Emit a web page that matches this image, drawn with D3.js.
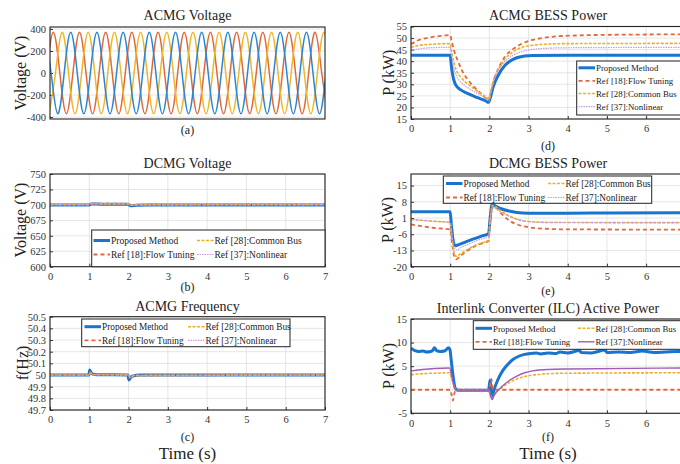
<!DOCTYPE html>
<html><head><meta charset="utf-8">
<script src="https://cdn.jsdelivr.net/npm/d3@7"></script>
<style>
body{margin:0;background:#fff}
svg{display:block;font-family:"Liberation Serif","Times New Roman",serif}
</style>
</head><body><svg id="chart" width="680" height="464"></svg>
<script>
// ---------------- DATA ----------------
const seriesNames = ["Proposed Method", "Ref [18]:Flow Tuning", "Ref [28]:Common Bus", "Ref [37]:Nonlinear"];
const timeTicks = [0, 1, 2, 3, 4, 5, 6, 7];
const timeTicksVisibleRight = [0, 1, 2, 3, 4, 5, 6];

// (a) ACMG three-phase voltage, sampled every quarter period (ms)
const acSampleStepMs = 5;
const acRedStartMs = -2.5, acYellowStartMs = -0.83, acBlueStartMs = -4.17;
const acRedV = [0,370,0,-370,0,370,0,-370,0,370,0,-370,0,370,0,-370,0,370,0,-370,0,370,0,-370,0,370,0,-370,0,370,0,-370,0,370,0,-370,0,370,0,-370,0,370,0,-370];
const acYellowV = [-370,0,370,0,-370,0,370,0,-370,0,370,0,-370,0,370,0,-370,0,370,0,-370,0,370,0,-370,0,370,0,-370,0,370,0,-370,0,370,0,-370,0,370,0,-370,0,370,0];
const acBlueV = [370,0,-370,0,370,0,-370,0,370,0,-370,0,370,0,-370,0,370,0,-370,0,370,0,-370,0,370,0,-370,0,370,0,-370,0,370,0,-370,0,370,0,-370,0,370,0,-370,0];
const acVoltTicks = [-400, -200, 0, 200, 400];

// (b) DCMG voltage
const dcVoltProposed = [[0,700],[1.0,700],[1.05,701.4],[1.3,701.2],[1.98,701],[2.05,698.8],[2.2,699.4],[2.5,700],[7,700]];
const dcVoltFlow = [[0,700.6],[1.0,700.6],[1.05,702.2],[1.3,702],[1.98,701.7],[2.05,699.6],[2.3,700.4],[7,700.6]];
const dcVoltCommon = [[0,700.4],[1.0,700.4],[1.05,701.9],[1.3,701.7],[1.98,701.5],[2.05,699.4],[2.3,700.2],[7,700.4]];
const dcVoltNonlin = [[0,700.3],[1.0,700.3],[1.05,701.8],[1.3,701.6],[1.98,701.4],[2.05,699.3],[2.3,700.1],[7,700.3]];
const dcVoltTicks = [600, 625, 650, 675, 700, 725, 750];

// (c) ACMG frequency
const freqProposed = [[0,50],[0.99,50],[1.01,50.042],[1.03,50.03],[1.08,50.01],[1.2,50.003],[1.98,50],[2.01,49.958],[2.04,49.972],[2.1,49.99],[2.3,50],[7,50]];
const freqFlow = [[0,50],[1.0,50],[1.02,50.025],[1.1,50.005],[2.0,50],[2.03,49.975],[2.15,49.995],[7,50]];
const freqCommon = [[0,50],[1.0,50],[1.02,50.02],[1.1,50.004],[2.0,50],[2.03,49.98],[2.15,49.996],[7,50]];
const freqNonlin = [[0,50],[1.0,50],[1.02,50.02],[1.1,50.004],[2.0,50],[2.03,49.98],[2.15,49.996],[7,50]];
const freqTicks = [49.7, 49.8, 49.9, 50, 50.1, 50.2, 50.3, 50.4, 50.5];

// (d) ACMG BESS power
const acBessProposed = [[0,42.6],[1.0,42.6],[1.03,38],[1.07,33.5],[1.12,30.5],[1.2,28.5],[1.33,27],[1.5,25.6],[1.7,24.2],[1.9,22.9],[1.98,22.2],[2.02,24],[2.1,29],[2.23,34],[2.4,38.2],[2.55,40.3],[2.7,41.5],[2.9,42.2],[3.1,42.5],[4,42.6],[7,42.6]];
const acBessFlow = [[0,47.3],[0.15,48.8],[0.3,49.6],[0.5,50.3],[0.75,50.9],[1.0,51.3],[1.04,48.5],[1.1,44.5],[1.2,40],[1.3,36],[1.45,32],[1.6,29],[1.8,25.8],[1.98,23.3],[2.03,26],[2.1,31],[2.25,37.5],[2.4,42],[2.6,45.2],[2.8,47.3],[3.05,49],[3.35,50],[3.7,50.7],[4.2,51.1],[5,51.4],[7,51.6]];
const acBessCommon = [[0,46],[0.2,46.8],[0.5,47.3],[1.0,47.6],[1.03,45],[1.08,40.5],[1.15,36.5],[1.3,32.5],[1.5,29.5],[1.7,27],[1.9,24.8],[1.99,23.5],[2.03,26.5],[2.1,31.5],[2.25,37],[2.4,41],[2.6,44],[2.8,45.8],[3.1,46.9],[3.5,47.4],[4,47.6],[7,47.7]];
const acBessNonlin = [[0,44.6],[0.2,45.3],[0.5,45.8],[1.0,46.0],[1.03,43],[1.08,38],[1.15,34],[1.3,30.5],[1.5,28],[1.7,26],[1.9,24],[1.99,22.8],[2.03,26],[2.1,31],[2.25,36.5],[2.4,40],[2.6,42.5],[2.8,44],[3.1,45.1],[3.5,45.6],[4,45.8],[7,46.0]];
const acBessTicks = [15, 20, 25, 30, 35, 40, 45, 50, 55];

// (e) DCMG BESS power
const dcBessProposed = [[0,3.7],[1.0,3.7],[1.03,-2],[1.07,-8],[1.12,-11],[1.2,-10.6],[1.4,-9.3],[1.6,-8],[1.8,-6.8],[1.98,-5.8],[2.02,1],[2.07,6.9],[2.15,6.2],[2.3,5.0],[2.5,4.0],[2.7,3.4],[3,3.1],[4,3.1],[5,3.2],[7,3.3]];
const dcBessFlow = [[0,-1.7],[0.3,-2.6],[0.6,-3.3],[1.0,-3.9],[1.05,-10],[1.1,-15.5],[1.15,-16.8],[1.25,-15.5],[1.45,-13],[1.7,-10.5],[1.98,-8.9],[2.02,0],[2.08,6.2],[2.15,5.8],[2.3,3],[2.5,0],[2.75,-2],[3,-3],[3.4,-3.6],[4,-3.9],[7,-4.0]];
const dcBessCommon = [[0,0.4],[0.5,-0.3],[1.0,-0.9],[1.05,-8],[1.1,-14],[1.15,-15.5],[1.3,-14],[1.5,-12],[1.75,-10],[1.98,-8.5],[2.02,0],[2.08,6.5],[2.15,6],[2.3,4],[2.5,2],[2.75,0.3],[3,-0.5],[3.5,-0.9],[7,-1.0]];
const dcBessNonlin = [[0,0.4],[0.5,-0.3],[1.0,-0.9],[1.05,-7],[1.1,-11.5],[1.15,-12.8],[1.3,-11.5],[1.5,-10],[1.75,-8.3],[1.98,-7.0],[2.02,0],[2.08,5.5],[2.15,5.2],[2.3,3.5],[2.5,1.8],[2.75,0.2],[3,-0.5],[3.5,-0.9],[7,-1.0]];
const dcBessTicks = [-20, -13, -6, 1, 8, 15];

// (f) ILC active power
const ilcProposed = [[0,8.8],[0.1,8.3],[0.2,8.1],[0.3,8.2],[0.4,8.0],[0.5,8.1],[0.55,8.3],[0.6,8.9],[0.65,8.3],[0.75,8.1],[0.85,8.2],[0.9,8.5],[0.95,8.9],[0.99,8.6],[1.03,6],[1.08,2.5],[1.13,0.3],[1.2,-0.1],[1.5,-0.1],[1.98,-0.1],[2.0,1],[2.02,2.0],[2.04,0],[2.07,-1.5],[2.12,0],[2.2,1.8],[2.3,3.5],[2.45,5.2],[2.6,6.4],[2.75,7.1],[2.9,7.5],[3.05,7.7],[3.2,7.8],[3.3,7.6],[3.5,7.8],[3.7,7.7],[3.8,8.0],[4.0,7.8],[4.3,8.3],[4.35,7.9],[4.6,7.8],[4.95,8.4],[5.0,7.9],[5.3,8.0],[5.6,7.9],[5.9,8.2],[6.2,7.9],[6.5,8.0],[6.8,8.1],[7,8.1]];
const ilcFlow = [[0,0],[1.0,0],[1.04,-1.2],[1.07,-2.3],[1.1,-1.0],[1.15,0],[2.0,0],[2.03,1.5],[2.05,2.3],[2.08,0.5],[2.12,0],[7,0]];
const ilcCommon = [[0,3.2],[0.3,3.4],[0.6,3.5],[0.98,3.6],[1.05,2],[1.1,0.7],[1.15,0],[1.98,-0.1],[2.03,-1.2],[2.07,-2.0],[2.12,-1.2],[2.3,0.3],[2.5,1.5],[2.7,2.3],[2.9,2.8],[3.1,3.1],[3.5,3.4],[4,3.5],[7,3.6]];
const ilcNonlin = [[0,4.0],[0.3,4.3],[0.6,4.5],[0.98,4.6],[1.05,2.5],[1.1,0.9],[1.15,0],[1.98,-0.1],[2.03,-1.3],[2.07,-2.1],[2.12,-1.2],[2.3,0.5],[2.5,1.9],[2.7,2.9],[2.9,3.6],[3.1,4.0],[3.5,4.3],[4,4.4],[7,4.6]];
const ilcTicks = [-5, 0, 5, 10, 15];

// ---------------- STYLES ----------------
const C_BLUE = "#1874cd", C_RED = "#e2673a", C_YEL = "#ebb028", C_PUR = "#c39ddc", C_PUR_DARK = "#a05cbc";
const baseStyles = [
  {color: C_BLUE, width: 3, dash: null},
  {color: C_RED, width: 1.8, dash: "4,3"},
  {color: C_YEL, width: 1.6, dash: "3,1.5"},
  {color: C_PUR, width: 1.2, dash: "1.5,1"}
];

const svg = d3.select("#chart");
const defs = svg.append("defs");
let clipN = 0;

function makePanel(box, xDomain, yDomain, yTicks, opts) {
  const x = d3.scaleLinear().domain(xDomain).range([box.x0, box.x1]);
  const y = d3.scaleLinear().domain(yDomain).range([box.y1, box.y0]);
  const id = "clip" + (clipN++);
  defs.append("clipPath").attr("id", id).append("rect")
    .attr("x", box.x0).attr("y", box.y0).attr("width", box.x1 - box.x0).attr("height", box.y1 - box.y0);
  const g = svg.append("g");
  g.append("rect").attr("x", box.x0).attr("y", box.y0).attr("width", box.x1 - box.x0).attr("height", box.y1 - box.y0).attr("fill", "#fff");
  const grid = g.append("g").attr("stroke", "#dedede").attr("stroke-width", 0.8);
  yTicks.forEach(t => {
    grid.append("line").attr("x1", box.x0).attr("x2", box.x1).attr("y1", y(t)).attr("y2", y(t));
  });
  if (opts.xTicks && opts.vgrid !== false) {
    opts.xTicks.forEach(t => grid.append("line").attr("x1", x(t)).attr("x2", x(t)).attr("y1", box.y0).attr("y2", box.y1));
  }
  const ya = g.append("g").attr("transform", `translate(${box.x0},0)`)
    .call(d3.axisLeft(y).tickValues(yTicks).tickSizeInner(-3).tickSizeOuter(0).tickPadding(4).tickFormat(opts.yFmt || (d => d)));
  styleAxis(ya);
  if (opts.xTicks) {
    const xa = g.append("g").attr("transform", `translate(0,${box.y1})`)
      .call(d3.axisBottom(x).tickValues(opts.xTicks).tickSizeInner(-3).tickSizeOuter(0).tickPadding(6).tickFormat(d => d));
    styleAxis(xa);
  }
  const plot = g.append("g").attr("clip-path", `url(#${id})`);
  return {g, plot, x, y, box};
}

function styleAxis(a) {
  a.select(".domain").remove();
  a.selectAll(".tick line").attr("stroke", "#333");
  a.selectAll(".tick text").attr("font-size", 10.5).attr("fill", "#333").attr("font-family", "Liberation Serif, serif");
}

function drawSeries(p, data, st, curve) {
  p.plot.append("path").datum(data)
    .attr("fill", "none").attr("stroke", st.color).attr("stroke-width", st.width)
    .attr("stroke-dasharray", st.dash).attr("stroke-linejoin", "round")
    .attr("d", d3.line().x(d => p.x(d[0])).y(d => p.y(d[1])).curve(curve || d3.curveMonotoneX));
}

function frame(p) {
  const b = p.box;
  p.g.append("rect").attr("x", b.x0).attr("y", b.y0).attr("width", b.x1 - b.x0).attr("height", b.y1 - b.y0)
    .attr("fill", "none").attr("stroke", "#222").attr("stroke-width", 1.1);
}

function text(x, y, s, size, anchor, rot) {
  const t = svg.append("text").attr("font-size", size).attr("fill", "#222").attr("text-anchor", anchor || "middle").text(s);
  if (rot) t.attr("transform", `translate(${x},${y}) rotate(-90)`).attr("dy", "0.35em");
  else t.attr("x", x).attr("y", y);
  return t;
}

function legend(box, entries, rowsY, styles, fontSize) {
  const g = svg.append("g");
  g.append("rect").attr("x", box.x).attr("y", box.y).attr("width", box.w).attr("height", box.h)
    .attr("fill", "#fff").attr("stroke", "#222").attr("stroke-width", 1);
  entries.forEach(e => {
    const st = styles[e.idx];
    const yy = rowsY[e.row];
    g.append("line").attr("x1", e.sx).attr("x2", e.sx + 16.5).attr("y1", yy).attr("y2", yy)
      .attr("stroke", st.color).attr("stroke-width", e.idx === 0 ? 3 : st.width).attr("stroke-dasharray", st.dash);
    g.append("text").attr("x", e.sx + 17.5).attr("y", yy + 3.2).attr("font-size", fontSize || 9.3).attr("fill", "#222").text(seriesNames[e.idx]);
  });
}

// ---------------- PANEL (a) ----------------
const pa = makePanel({x0: 50, x1: 325, y0: 27, y1: 119}, [0, 210], [-418, 418], acVoltTicks, {vgrid: false});
const toPts = (start, vals) => vals.map((v, i) => [start + i * acSampleStepMs, v]);
drawSeries(pa, toPts(acRedStartMs, acRedV), {color: "#e0683a", width: 1.5}, d3.curveNatural);
drawSeries(pa, toPts(acYellowStartMs, acYellowV), {color: "#f0b52a", width: 1.5}, d3.curveNatural);
drawSeries(pa, toPts(acBlueStartMs, acBlueV), {color: "#2a86d3", width: 1.5}, d3.curveNatural);
frame(pa);
text(187.5, 20, "ACMG Voltage", 14);
text(20, 73, "Voltage (V)", 16, "middle", true);
text(187.5, 134, "(a)", 12);

// ---------------- PANEL (b) ----------------
const pb = makePanel({x0: 50, x1: 325, y0: 174, y1: 266.7}, [0, 7], [600, 750], dcVoltTicks, {xTicks: timeTicks});
[dcVoltProposed, dcVoltFlow, dcVoltCommon, dcVoltNonlin].forEach((d, i) => drawSeries(pb, d, baseStyles[i]));
legend({x: 91.7, y: 230, w: 233.3, h: 36.7},
  [{idx: 0, sx: 93.5, row: 0}, {idx: 2, sx: 197, row: 0}, {idx: 1, sx: 93.5, row: 1}, {idx: 3, sx: 197, row: 1}],
  [240.5, 254.5], baseStyles, 9.5);
frame(pb);
text(187.5, 168, "DCMG Voltage", 14);
text(20, 220, "Voltage (V)", 16, "middle", true);
text(187.5, 291, "(b)", 12);

// ---------------- PANEL (c) ----------------
const pc = makePanel({x0: 50, x1: 325, y0: 316.7, y1: 410}, [0, 7], [49.7, 50.5], freqTicks,
  {xTicks: timeTicks, yFmt: d => String(+d.toFixed(1))});
[freqProposed, freqFlow, freqCommon, freqNonlin].forEach((d, i) => drawSeries(pc, d, baseStyles[i]));
legend({x: 81.7, y: 319, w: 208.3, h: 27.7},
  [{idx: 0, sx: 84.5, row: 0}, {idx: 2, sx: 188, row: 0}, {idx: 1, sx: 84.5, row: 1}, {idx: 3, sx: 188, row: 1}],
  [326.7, 340.3], baseStyles, 9.3);
frame(pc);
text(187.5, 311, "ACMG Frequency", 14);
text(22, 363, "f(Hz)", 16, "middle", true);
text(187.5, 440.5, "(c)", 12);
text(187.5, 459, "Time (s)", 17);

// ---------------- PANEL (d) ----------------
const pd = makePanel({x0: 411, x1: 685.3, y0: 26.5, y1: 119}, [0, 7], [15, 55], acBessTicks, {xTicks: timeTicksVisibleRight});
[acBessProposed, acBessFlow, acBessCommon, acBessNonlin].forEach((d, i) => drawSeries(pd, d, baseStyles[i]));
legend({x: 576.7, y: 61, w: 120, h: 54},
  [{idx: 0, sx: 578.5, row: 0}, {idx: 1, sx: 578.5, row: 1}, {idx: 2, sx: 578.5, row: 2}, {idx: 3, sx: 578.5, row: 3}],
  [67.8, 80.8, 93.5, 106.7], baseStyles, 8.8);
frame(pd);
text(548, 20, "ACMG BESS Power", 14);
text(388, 72.7, "P (kW)", 16, "middle", true);
text(548, 149.5, "(d)", 12);

// ---------------- PANEL (e) ----------------
const pe = makePanel({x0: 411, x1: 685.3, y0: 174, y1: 266.7}, [0, 7], [-20, 20], dcBessTicks, {xTicks: timeTicksVisibleRight});
[dcBessProposed, dcBessFlow, dcBessCommon, dcBessNonlin].forEach((d, i) => drawSeries(pe, d, baseStyles[i]));
legend({x: 443.3, y: 176, w: 208.4, h: 27.3},
  [{idx: 0, sx: 446, row: 0}, {idx: 2, sx: 548, row: 0}, {idx: 1, sx: 446, row: 1}, {idx: 3, sx: 548, row: 1}],
  [183.5, 197.5], baseStyles, 9.3);
frame(pe);
text(548, 168, "DCMG BESS Power", 14);
text(387, 220, "P (kW)", 16, "middle", true);
text(548, 294.5, "(e)", 12);

// ---------------- PANEL (f) ----------------
const fStyles = baseStyles.map((s, i) => i === 3 ? {color: C_PUR_DARK, width: 1.4, dash: null} : s);
const pf = makePanel({x0: 411, x1: 685.3, y0: 319, y1: 413.3}, [0, 7], [-5, 15], ilcTicks, {xTicks: timeTicksVisibleRight});
[ilcProposed, ilcFlow, ilcCommon, ilcNonlin].forEach((d, i) => drawSeries(pf, d, fStyles[i]));
legend({x: 473.3, y: 320.7, w: 220, h: 28.6},
  [{idx: 0, sx: 475.5, row: 0}, {idx: 2, sx: 578, row: 0}, {idx: 1, sx: 475.5, row: 1}, {idx: 3, sx: 578, row: 1}],
  [328.3, 341.8], fStyles, 8.8);
frame(pf);
text(548, 313, "Interlink Converter (ILC) Active Power", 14);
text(388, 366, "P (kW)", 16, "middle", true);
text(548, 441, "(f)", 12);
text(548, 459, "Time (s)", 17);
</script>
</body></html>
